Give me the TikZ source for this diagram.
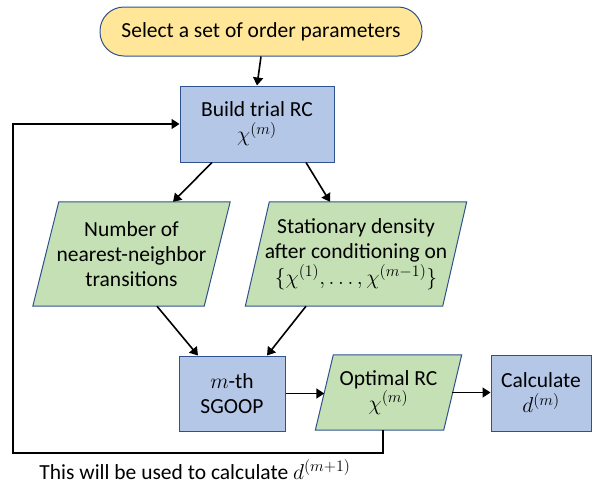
\RequirePackage{fix-cm}
\documentclass[tikz,border=0pt]{standalone}
\usepackage{fontspec}
\setmainfont{Carlito}
\DeclareMathSizes{21.5}{21.5}{16}{12}
\usetikzlibrary{arrows.meta,backgrounds}
\definecolor{edgeblue}{RGB}{47,82,143}
\definecolor{termfill}{RGB}{255,230,153}
\definecolor{boxfill}{RGB}{180,199,231}
\definecolor{parafill}{RGB}{197,224,180}
\newcommand\myparashape[2]{%
  \begin{scope}[on background layer]
  \filldraw[fill=parafill,draw=edgeblue,line width=1pt]
    ([xshift=#2/2]#1.north west) -- ([xshift=#2/2]#1.north east)
    -- ([xshift=-#2/2]#1.south east) -- ([xshift=-#2/2]#1.south west) -- cycle;
  \end{scope}}
\begin{document}
\begin{tikzpicture}[x=1pt,y=-1pt,
  every node/.style={font=\fontsize{21.5}{25}\selectfont, inner sep=0pt, align=center},
  termbox/.style={draw=edgeblue, fill=termfill, line width=1pt, rounded corners=24pt},
  procbox/.style={draw=edgeblue, fill=boxfill, line width=1pt},
  parabox/.style={},
  conn/.style={line width=1.6pt, -{Triangle[length=8pt,width=10pt]}},
  plain/.style={line width=1.6pt}]
\useasboundingbox (0,0) rectangle (594,483);

\node[termbox, minimum width=322pt, minimum height=49pt] (term) at (261,31.5) {Select a set of order parameters};
\node[procbox, minimum width=154pt, minimum height=76pt] (build) at (257,124) {Build trial RC\\$\chi^{(m)}$};
\node[parabox, minimum width=171pt, minimum height=104pt] (p1) at (131.5,254) {Number of\\nearest-neighbor\\transitions};
\myparashape{p1}{26pt}
\node[parabox, minimum width=197pt, minimum height=104pt] (p2) at (356,254) {Stationary density\\after conditioning on\\[1pt]$\bigl\{\chi^{(1)},\dots,\chi^{(m-1)}\bigr\}$};
\myparashape{p2}{24pt}
\node[procbox, minimum width=106pt, minimum height=75pt] (sgoop) at (232,393.5) {$m$-th\\SGOOP};
\node[parabox, minimum width=128pt, minimum height=75pt] (opt) at (388.5,392.5) {Optimal RC\\$\chi^{(m)}$};
\myparashape{opt}{18pt}
\node[procbox, minimum width=100pt, minimum height=76pt] (calc) at (541,393) {Calculate\\$d^{(m)}$};
\node[anchor=base] (note) at (195,479) {This will be used to calculate $d^{(m+1)}$};

\coordinate (fb1) at (383,453);
\coordinate (fb2) at (13,453);
\coordinate (fb3) at (13,124);

\draw[conn] (term.south) -- (build.north);
\draw[conn] ([xshift=-45pt]build.south) -- ([xshift=41.5pt]p1.north);
\draw[conn] ([xshift=49pt]build.south) -- ([xshift=-26pt]p2.north);
\draw[conn] ([xshift=25.5pt]p1.south) -- ([xshift=-34pt]sgoop.north);
\draw[conn] ([xshift=-50pt]p2.south) -- ([xshift=35pt]sgoop.north);
\draw[conn] (sgoop.east) -- (sgoop.east -| opt.west);
\draw[conn] ([xshift=-0.5pt]opt.east) -- (opt.east -| calc.west);
\draw[conn] ([xshift=-5.5pt]opt.south) -- (fb1) -- (fb2) -- (fb3) -- (build.west);
\end{tikzpicture}
\end{document}
